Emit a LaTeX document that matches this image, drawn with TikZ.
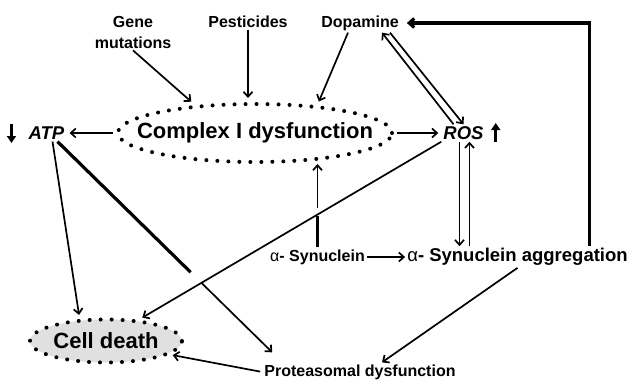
\documentclass[tikz,border=0pt]{standalone}
\usepackage{fontspec}
\setmainfont{Liberation Sans}
\usetikzlibrary{shapes.geometric,arrows.meta,calc}

\begin{document}
\begin{tikzpicture}[x=1pt,y=-1pt,
	lbl/.style={font=\fontsize{16}{21}\selectfont\bfseries,inner sep=2pt},
	mid/.style={font=\fontsize{18.5}{22}\selectfont\bfseries,inner sep=2pt},
	big/.style={font=\fontsize{22}{26}\selectfont\bfseries,inner sep=0pt},
	dots/.style={ellipse,draw,line width=4pt,line cap=round,dash pattern=on 0pt off 11pt},
	arr/.style={-{Straight Barb[length=5pt,width=9pt]},line width=1.7pt},
	heavy/.style={line width=3.2pt},
	trend/.style={-{Triangle[length=7pt,width=9pt]},line width=2.6pt}]
	\useasboundingbox (0,0) rectangle (630,381);
	\node[lbl,align=center] (gene) at (133,32) {Gene\\mutations};
	\node[lbl] (pest) at (248,22) {Pesticides};
	\node[lbl] (dopa) at (360,23) {Dopamine};
	\node[dots,minimum width=274pt,minimum height=58pt] (cx) at (255,133) {};
	\node[big] (cxtext) at (cx) {Complex I dysfunction};
	\node[mid] (atp) at (46.5,133) {\itshape ATP};
	\node[mid] (ros) at (463.5,133) {\itshape ROS};
	\node[lbl] (asyn) at (317.5,257) {{\mdseries α}- Synuclein};
	\node[mid] (agg) at (517.5,257) {{\mdseries α}- Synuclein aggregation};
	\node[lbl] (prot) at (360,372) {Proteasomal dysfunction};
	\node[dots,fill=black!12,minimum width=152pt,minimum height=43pt] (cd) at (106,341) {};
	\node[big] (cdtext) at (cd) {Cell death};
	\coordinate (a1) at ([xshift=11pt]atp.south);
	\coordinate (p1) at ([xshift=10pt,yshift=10pt]prot.north west);
	\coordinate (s1) at (asyn.north |- cx.south);
	\draw[trend] ([xshift=-15pt,yshift=9pt]atp.west) -- ++(0,19);
	\draw[trend] ([xshift=10pt,yshift=-9pt]ros.east) -- ++(0,-19);
	\draw[arr,shorten >=5pt] (gene.south) -- (cx.155);
	\draw[arr,shorten >=4pt] (pest.south) -- (pest.south |- cx.north);
	\draw[arr,shorten >=4pt] ([xshift=-12pt]dopa.south) -- (cx.24);
	\draw[arr,shorten <=3pt,shorten >=3pt] (cx.west) -- (atp.east);
	\draw[arr,shorten <=3pt,shorten >=3pt] (cx.east) -- (ros.west);
	\draw[arr] ([xshift=-10pt]ros.north) -- ([xshift=22pt]dopa.south);
	\draw[arr] ([xshift=30pt]dopa.south) -- (ros.north);
	\draw[arr] ([xshift=-4pt]ros.south) -- ([xshift=-4pt]ros.south |- agg.north);
	\draw[arr] ([xshift=6pt]ros.south |- agg.north) -- ([xshift=6pt]ros.south);
	\draw[arr,heavy,shorten >=6pt] ([xshift=72pt]agg.north) |- (dopa.east);
	\draw[arr,shorten >=4pt] (ros.south west) -- (cd.33);
	\draw[heavy] (asyn.north) -- ($(asyn.north)!0.38!(s1)$);
	\draw[arr] ($(asyn.north)!0.47!(s1)$) -- (s1);
	\draw[heavy] (a1) -- ($(a1)!0.62!(p1)$);
	\draw[arr] ($(a1)!0.67!(p1)$) -- (p1);
	\draw[arr,shorten >=4pt] ([xshift=6pt]atp.south) -- (cd.140);
	\draw[arr] (asyn.east) -- (agg.west);
	\draw[arr] (agg.south) -- ([xshift=22pt]prot.north);
	\draw[arr,shorten <=2pt,shorten >=3pt] (prot.west) -- (cd.-12);
\end{tikzpicture}
\end{document}
